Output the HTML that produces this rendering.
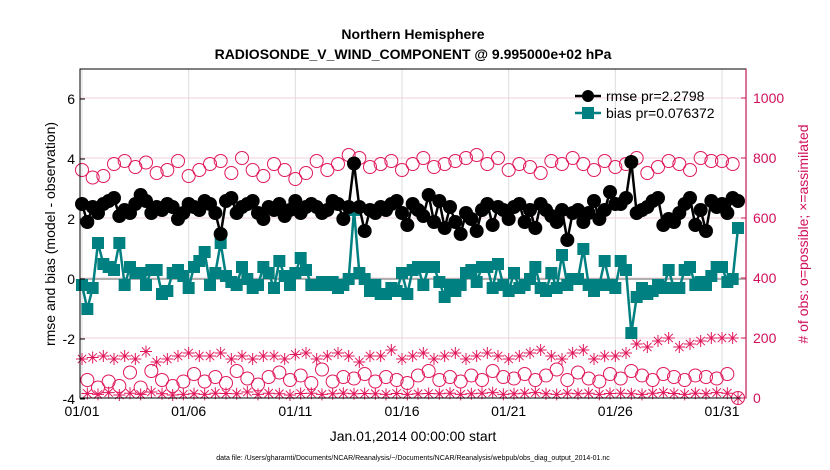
<!DOCTYPE html>
<html><head><meta charset="utf-8"><style>
body{margin:0;background:#fff;}
svg{display:block;font-family:"Liberation Sans",sans-serif;}
</style></head><body>
<svg id="chart" width="830" height="470" viewBox="0 0 830 470">
<text x="413" y="39" text-anchor="middle" font-size="14" font-weight="bold">Northern Hemisphere</text>
<text x="413" y="59" text-anchor="middle" font-size="14" font-weight="bold">RADIOSONDE_V_WIND_COMPONENT @ 9.995000e+02 hPa</text>
<g id="grid"></g>
<g id="counts"></g>
<g id="series"></g>
<rect x="80" y="69" width="666" height="329" fill="none" stroke="#000" stroke-width="1"/>
<line x1="746" y1="69" x2="746" y2="398" stroke="#c8194f" stroke-width="1.2"/>
<g id="axes"></g>
<text transform="translate(55,234) rotate(-90)" text-anchor="middle" font-size="14">rmse and bias (model - observation)</text>
<text transform="translate(808,234) rotate(-90)" text-anchor="middle" font-size="14" fill="#d0105a"># of obs: o=possible; ×=assimilated</text>
<text x="413" y="441" text-anchor="middle" font-size="14">Jan.01,2014 00:00:00 start</text>
<text x="413" y="460" text-anchor="middle" font-size="7">data file: /Users/gharamti/Documents/NCAR/Reanalysis/~/Documents/NCAR/Reanalysis/webpub/obs_diag_output_2014-01.nc</text>
<g>
<line x1="575" y1="96" x2="601" y2="96" stroke="#000" stroke-width="2.5"/>
<circle cx="588" cy="96" r="6" fill="#000"/>
<text x="606" y="101" font-size="14">rmse pr=2.2798</text>
<line x1="575" y1="113" x2="601" y2="113" stroke="#008080" stroke-width="2.5"/>
<rect x="582" y="107" width="12" height="12" fill="#008080"/>
<text x="606" y="118" font-size="14">bias pr=0.076372</text>
</g>
</svg>
<script>
const dayLabels=["01/01","01/06","01/11","01/16","01/21","01/26","01/31"];
const dayTicks=[0,5,10,15,20,25,30];
const leftTicks=[-4,-2,0,2,4,6];
const rightTicks=[0,200,400,600,800,1000];
const rmse=[
 2.5,1.9,2.4,2.2, 2.5,2.6,2.7,2.1, 2.3,2.2,2.5,2.8, 2.6,2.2,2.4,2.3,
 2.5,2.4,2.0,2.2, 2.5,2.4,2.3,2.6, 2.5,2.2,1.5,2.6, 2.7,2.2,2.4,2.5,
 2.6,2.2,2.0,2.4, 2.3,2.5,2.1,2.3, 2.6,2.2,2.4,2.5, 2.4,2.2,2.3,2.6,
 2.5,2.0,2.4,3.85, 2.4,1.6,2.3,2.2, 2.4,2.3,2.5,2.6, 2.2,1.8,2.5,2.3,
 2.1,2.8,1.9,2.6, 1.7,2.4,1.9,1.5, 2.2,2.0,1.6,2.3, 2.5,1.8,2.4,2.3,
 2.0,2.4,2.5,1.9, 2.3,1.7,2.5,2.3, 2.1,1.9,2.3,1.3, 2.2,2.3,1.9,2.2,
 2.6,2.0,2.3,2.9, 2.5,2.5,2.7,3.9, 2.2,2.3,2.4,2.6, 2.7,1.8,2.0,1.9,
 2.2,2.5,2.7,1.8, 2.3,1.6,2.6,2.4, 2.5,2.2,2.7,2.6];
const bias=[
 -0.2,-1.0,-0.3,1.2, 0.5,0.4,0.3,1.2, -0.2,0.4,0.2,0.2, -0.2,0.3,0.3,-0.5,
 -0.4,0.2,0.3,0.1, -0.3,0.4,0.6,0.9, -0.2,0.2,1.2,0.1, -0.1,-0.2,0.4,0.0,
 -0.3,-0.2,0.4,0.2, -0.3,0.6,0.1,-0.2, 0.2,0.7,0.3,-0.2, -0.2,-0.1,-0.2,-0.1,
 -0.3,-0.2,0.0,2.3, 0.2,0.0,-0.4,-0.2, -0.5,-0.5,-0.3,-0.4, 0.2,-0.5,0.3,0.4,
 -0.2,0.4,0.4,-0.1, -0.6,-0.2,-0.4,-0.2, 0.2,0.3,-0.1,0.4, 0.4,-0.3,0.5,-0.2,
 -0.4,0.2,-0.3,-0.2, 0.0,0.4,-0.3,-0.4, 0.2,-0.3,0.8,-0.2, 0.0,0.0,1.0,-0.2,
 -0.4,-0.2,0.6,-0.2, -0.3,0.6,0.3,-1.8, -0.6,-0.3,-0.5,-0.4, -0.2,-0.3,0.3,-0.3,
 -0.3,0.3,0.4,-0.2, -0.1,-0.2,0.1,0.4, 0.4,-0.1,0.0,1.7];
const possible=[
 760,60,735,35, 740,55,780,40, 790,85,770,35, 785,90,750,60,
 760,40,790,55, 740,80,760,55, 780,70,790,50, 750,90,800,65,
 760,45,740,70, 780,85,760,60, 730,75,750,50, 790,95,760,55,
 780,70,810,65, 800,80,770,55, 780,70,790,60, 760,50,780,75,
 800,90,770,60, 780,70,790,55, 800,75,810,60, 780,90,800,70,
 760,65,780,80, 770,60,750,75, 790,95,780,60, 800,85,780,65,
 760,55,790,80, 770,65,780,90, 800,75,750,60, 770,80,790,70,
 780,60,760,75, 800,70,790,65, 790,80,780,0];
const assimilated=[
 130,15,135,12, 140,18,130,10, 140,16,130,12, 155,20,120,14,
 130,10,140,12, 150,14,140,12, 140,16,150,15, 130,14,140,20,
 130,12,140,16, 140,14,130,10, 145,15,150,16, 130,12,140,14,
 150,16,140,14, 120,15,140,14, 140,12,160,15, 130,12,140,14,
 150,15,130,14, 140,16,150,12, 130,14,140,16, 150,18,140,12,
 130,14,140,16, 150,18,160,14, 140,12,130,16, 150,14,160,16,
 130,12,140,15, 140,16,150,14, 180,12,170,16, 190,18,200,15,
 170,12,180,16, 190,14,200,18, 200,16,200,0];

const NS="http://www.w3.org/2000/svg";
const X0=82, DAYPX=(722-82)/30;
const xOf=i=>X0+i*DAYPX/4;
const yL=v=>279-v*30;
const yR=c=>398-c*0.3;
function mk(tag,attrs,parent){const e=document.createElementNS(NS,tag);for(const k in attrs)e.setAttribute(k,attrs[k]);parent.appendChild(e);return e;}
const grid=document.getElementById('grid'),axes=document.getElementById('axes');
const counts=document.getElementById('counts'),series=document.getElementById('series');

dayTicks.forEach((d,i)=>{
  const x=X0+d*DAYPX;
  const g=mk('line',{x1:x,y1:69,x2:x,y2:398,stroke:'#dcdcdc','stroke-width':1},grid);
  
  
  const t=mk('text',{x:x,y:416,'text-anchor':'middle','font-size':14},axes);
  t.textContent=dayLabels[i];
  
  
});
leftTicks.forEach(v=>{
  const y=yL(v);
  const t=mk('text',{x:75,y:y+5,'text-anchor':'end','font-size':14},axes);
  t.textContent=v;
  
  
  mk('line',{x1:80,y1:y,x2:85,y2:y,stroke:'#000'},axes);
});
rightTicks.forEach(c=>{
  const y=yR(c);
  const g=mk('line',{x1:80,y1:y,x2:746,y2:y,stroke:'#f2d0dc','stroke-width':1},grid);
  
  
  mk('line',{x1:741,y1:y,x2:746,y2:y,stroke:'#c8194f'},axes);
  const t=mk('text',{x:753,y:y+5,'font-size':14,fill:'#d0105a'},axes);
  t.textContent=c;
  
  
});
const z=mk('line',{x1:80,y1:yL(0),x2:746,y2:yL(0),stroke:'#b0b0b0','stroke-width':2},grid);



possible.forEach((c,i)=>{
  const p=mk('circle',{cx:xOf(i),cy:yR(c),r:6.5,fill:'none',stroke:'#e0185a','stroke-width':1},counts);
  
  
});
assimilated.forEach((c,i)=>{
  const x=xOf(i),y=yR(c),r=6;
  const g=mk('path',{d:`M${x-r},${y}H${x+r}M${x},${y-r}V${y+r}M${x-4.2},${y-4.2}L${x+4.2},${y+4.2}M${x-4.2},${y+4.2}L${x+4.2},${y-4.2}`,stroke:'#e0185a','stroke-width':1,fill:'none'},counts);
  
  
});
const bl=mk('polyline',{points:bias.map((v,i)=>xOf(i)+','+yL(v)).join(' '),fill:'none',stroke:'#008080','stroke-width':2.5},series);


bias.forEach((v,i)=>{
  const r=mk('rect',{x:xOf(i)-6,y:yL(v)-6,width:12,height:12,fill:'#008080'},series);
  
  
});
const rl=mk('polyline',{points:rmse.map((v,i)=>xOf(i)+','+yL(v)).join(' '),fill:'none',stroke:'#000','stroke-width':2.5},series);


rmse.forEach((v,i)=>{
  const c=mk('circle',{cx:xOf(i),cy:yL(v),r:7,fill:'#000'},series);
  
  
});
</script>
</body></html>
